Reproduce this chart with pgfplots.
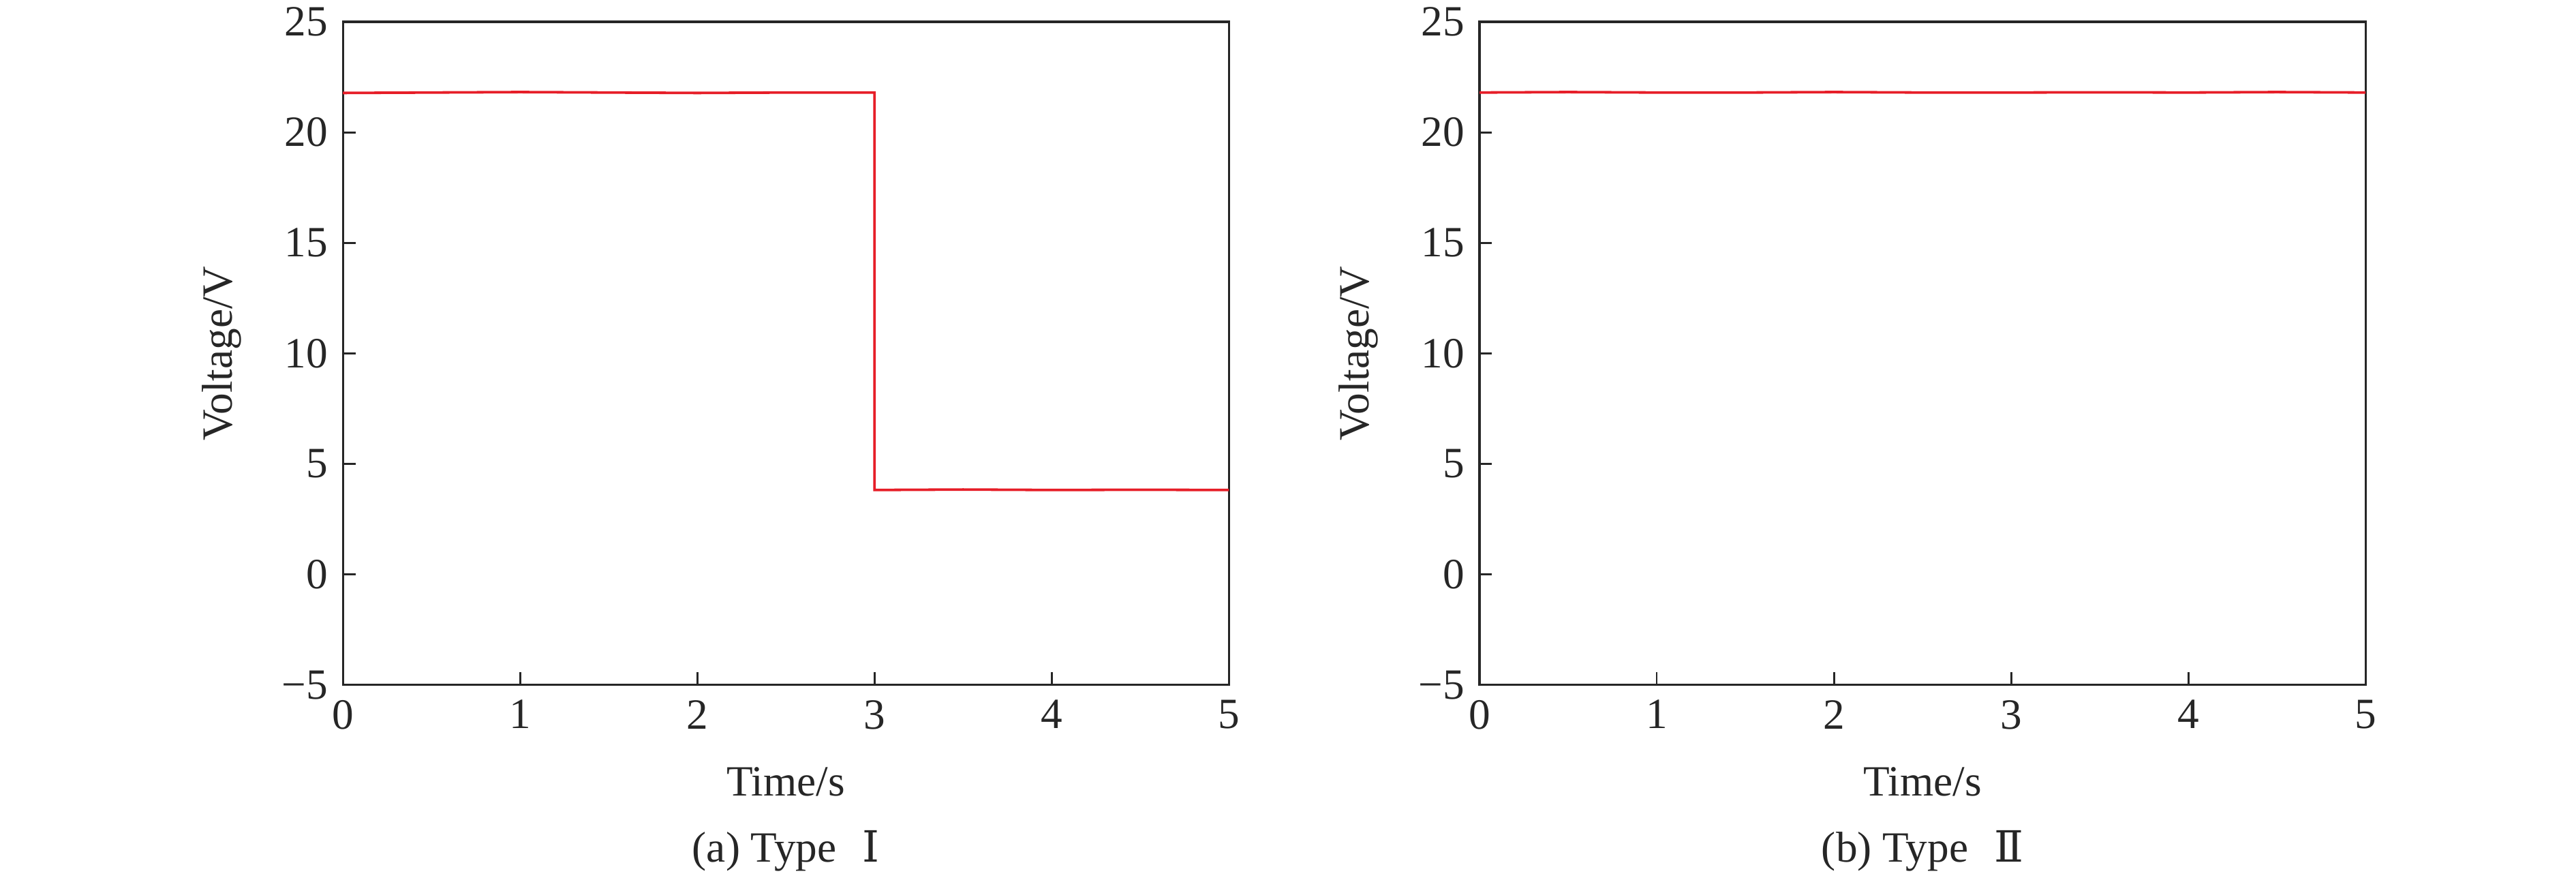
\documentclass[border=0pt]{standalone}
\usepackage{pgfplots}
\pgfplotsset{compat=1.18}
\usepackage{fontspec}
\setmainfont{Liberation Serif}
\newfontfamily\romfont{DejaVu Serif}
\definecolor{myred}{RGB}{230,30,40}
\pgfplotsset{
  myaxis/.style={
    scale only axis,
    width=205.4pt, height=153.7pt,
    xmin=0, xmax=5, ymin=-5, ymax=25,
    xtick={0,1,2,3,4,5}, xticklabels={0,1,2,3,4,5},
    ytick={-5,0,5,10,15,20,25}, yticklabels={−5,0,5,10,15,20,25},
    tick pos=left, tick align=inside,
    major tick length=2.9pt,
    axis line style={line width=0.5pt, black!85},
    tick style={line width=0.45pt, black!85},
    every tick label/.append style={font=\fontsize{10}{12}\selectfont, text=black!85},
    label style={font=\fontsize{10}{12}\selectfont, text=black!85},
    xlabel={Time/s},
    xlabel style={at={(axis description cs:0.5,-0.1675)}, anchor=base},
    ylabel={Voltage/V},
    ylabel style={at={(axis description cs:-0.137,0.5)}, anchor=center},
    clip=false,
  }
}
\begin{document}
\begin{tikzpicture}
\path[use as bounding box] (0,0) rectangle (597.2pt,203.35pt);
\begin{axis}[myaxis, at={(79.5pt,44.6pt)}, anchor=south west]
\addplot[myred, line width=0.6pt] coordinates {
(0,21.78) (0.5,21.8) (1,21.82) (1.5,21.8) (2,21.78) (2.5,21.8) (3,21.8)
(3,3.82) (3.5,3.84) (4,3.82) (4.5,3.83) (5,3.82)
};
\node[anchor=base, font=\fontsize{10}{12}\selectfont, text=black!85] at (axis description cs:0.5,-0.267) {(a) Type\hspace{0.6em}{\romfont Ⅰ}};
\end{axis}
\begin{axis}[myaxis, at={(343.0pt,44.6pt)}, anchor=south west]
\addplot[myred, line width=0.6pt] coordinates {
(0,21.8) (0.5,21.82) (1,21.8) (1.5,21.8) (2,21.82) (2.5,21.8) (3,21.8)
(3.5,21.81) (4,21.8) (4.5,21.82) (5,21.8)
};
\node[anchor=base, font=\fontsize{10}{12}\selectfont, text=black!85] at (axis description cs:0.5,-0.267) {(b) Type\hspace{0.6em}{\romfont Ⅱ}};
\end{axis}
\end{tikzpicture}
\end{document}
